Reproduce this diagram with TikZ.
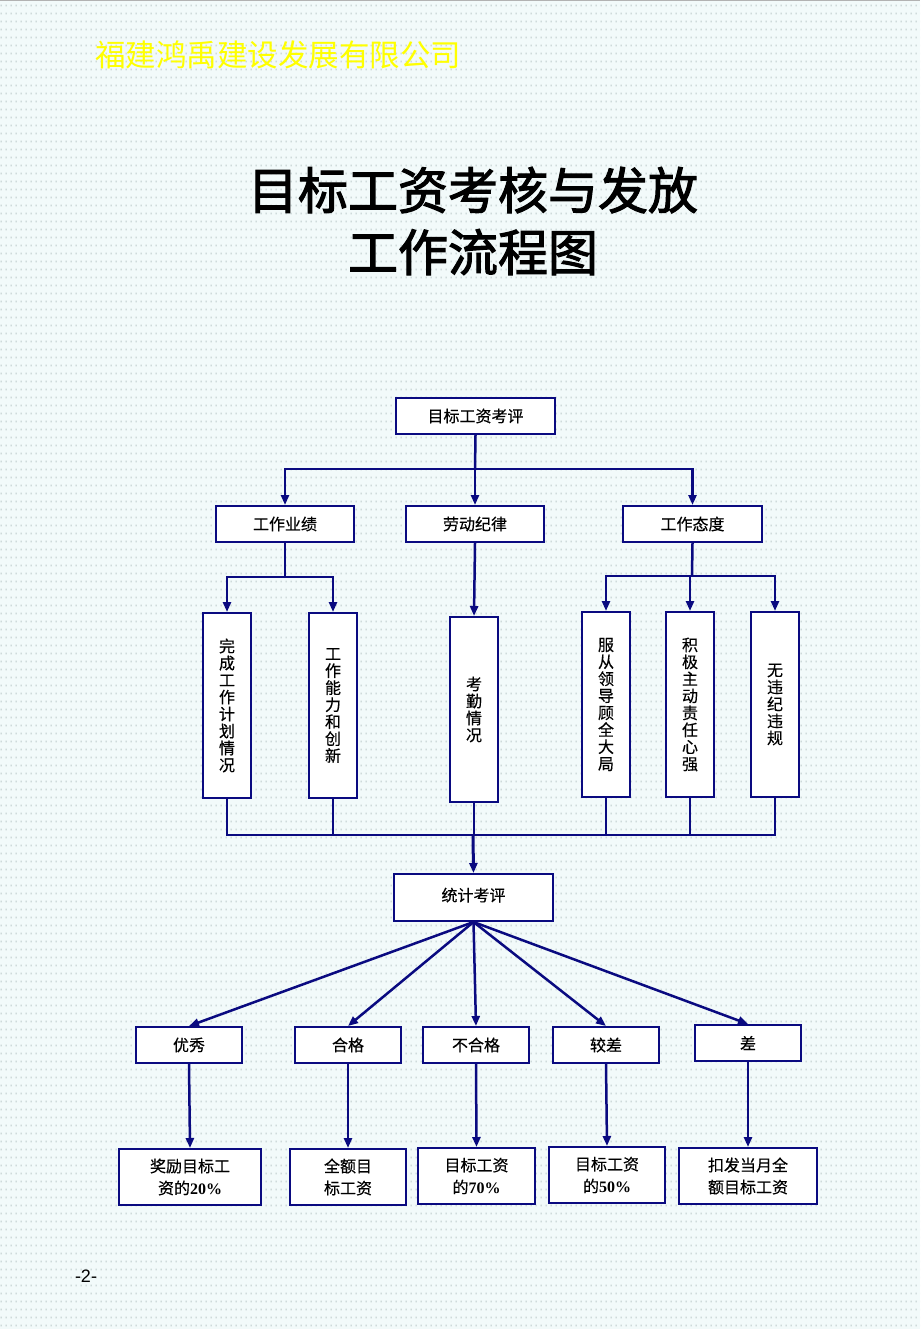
\documentclass[tikz,border=0pt]{standalone}
\usepackage{fontspec}
\setmainfont{Liberation Serif}
\newfontfamily\cjk[FakeBold=0.4]{Noto Sans CJK SC}
\newfontfamily\cjkplain{Noto Sans CJK SC}
\newfontfamily\cjktitle[FakeBold=2.2]{Noto Sans CJK SC}
\newfontfamily\pagesans{Liberation Sans}
\usetikzlibrary{arrows.meta,patterns}
\definecolor{bgc}{RGB}{242,250,250}
\definecolor{dotc}{RGB}{188,202,202}
\definecolor{navyc}{RGB}{10,10,128}
\definecolor{titley}{RGB}{255,255,0}
\newcommand\nb[1]{{\rmfamily\bfseries #1}}
\pgfdeclarepatternformonly{mydots}{\pgfqpoint{0pt}{0pt}}{\pgfqpoint{5pt}{8pt}}{\pgfqpoint{5pt}{8pt}}{%
  \pgfpathrectangle{\pgfqpoint{2pt}{3pt}}{\pgfqpoint{1pt}{2pt}}\pgfusepath{fill}}
\begin{document}
\begin{tikzpicture}[x=1pt,y=-1pt,
  box/.style={draw=navyc, line width=2pt, fill=white, inner sep=0pt, align=center,
    font=\cjk\fontsize{16}{22}\selectfont},
  vbox/.style={box, minimum width=48pt, minimum height=185pt, font=\cjk\fontsize{16}{17}\selectfont},
  conn/.style={draw=navyc, line width=2.5pt},
  arr/.style={conn, -{Triangle[length=10pt,width=8pt]}}]
\useasboundingbox (0,0) rectangle (920,1329);
\fill[bgc] (0,0) rectangle (920,1329);
\fill[pattern=mydots, pattern color=dotc] (0,0) rectangle (920,1329);
\draw[gray!60, line width=1.5pt] (0,0.75) -- (920,0.75);

% titles
\node[anchor=west, inner sep=0pt, text=titley, font=\cjkplain\fontsize{30.5}{30}\selectfont] (co) at (95,55) {福建鸿禹建设发展有限公司};
\node[align=center, inner sep=0pt, font=\cjktitle\fontsize{50}{62}\selectfont] (title) at (473,221) {目标工资考核与发放\\工作流程图};
\node[inner sep=0pt, font=\pagesans\fontsize{18}{18}\selectfont] (pg) at (86,1276) {-2-};

% level 1
\node[box, minimum width=159pt, minimum height=36pt] (A) at (475.5,416) {目标工资考评};
% level 2
\node[box, minimum width=138pt, minimum height=36pt] (B1) at (285,524) {工作业绩};
\node[box, minimum width=138pt, minimum height=36pt] (B2) at (475,524) {劳动纪律};
\node[box, minimum width=139pt, minimum height=36pt] (B3) at (692.5,524) {工作态度};
% level 3
\node[vbox] (C1) at (227,705.5) {完\\成\\工\\作\\计\\划\\情\\况};
\node[vbox] (C2) at (333,705.5) {工\\作\\能\\力\\和\\创\\新};
\node[vbox] (C3) at (474,709.5) {考\\勤\\情\\况};
\node[vbox] (C4) at (606,704.5) {服\\从\\领\\导\\顾\\全\\大\\局};
\node[vbox] (C5) at (690,704.5) {积\\极\\主\\动\\责\\任\\心\\强};
\node[vbox] (C6) at (775,704.5) {无\\违\\纪\\违\\规};
% level 4
\node[box, minimum width=159pt, minimum height=47pt] (D) at (473.5,897.5) {\raisebox{6pt}{统计考评}};
% level 5
\node[box, minimum width=106pt, minimum height=36pt] (E1) at (189,1045) {优秀};
\node[box, minimum width=106pt, minimum height=36pt] (E2) at (348,1045) {合格};
\node[box, minimum width=106pt, minimum height=36pt] (E3) at (476,1045) {不合格};
\node[box, minimum width=106pt, minimum height=36pt] (E4) at (606,1045) {较差};
\node[box, minimum width=106pt, minimum height=36pt] (E5) at (748,1043) {差};
% level 6
\node[box, minimum width=142pt, minimum height=56pt] (F1) at (190,1177) {奖励目标工\\资的\nb{20\%}};
\node[box, minimum width=116pt, minimum height=56pt] (F2) at (348,1177) {全额目\\标工资};
\node[box, minimum width=117pt, minimum height=56pt] (F3) at (476.5,1176) {目标工资\\的\nb{70\%}};
\node[box, minimum width=116pt, minimum height=56pt] (F4) at (607,1175) {目标工资\\的\nb{50\%}};
\node[box, minimum width=138pt, minimum height=56pt] (F5) at (748,1176) {扣发当月全\\额目标工资};

% connectors
\coordinate (j1) at (475,469);
\draw[conn] (A.south) -- (j1);
\draw[arr] (j1) -| (B1.north);
\draw[arr] (j1) -- (B2.north);
\draw[arr] (j1) -| (B3.north);

\coordinate (j2) at (285,577);
\draw[conn] (B1.south) -- (j2);
\draw[arr] (j2) -| (C1.north);
\draw[arr] (j2) -| (C2.north);
\draw[arr] (B2.south) -- (C3.north);
\coordinate (j3) at (692,576);
\draw[conn] (B3.south) -- (j3);
\draw[arr] (j3) -| (C4.north);
\draw[arr] (j3) -| (C5.north);
\draw[arr] (j3) -| (C6.north);

\coordinate (j4) at (473,835);
\draw[conn] (C1.south) |- (j4);
\draw[conn] (C2.south) |- (j4);
\draw[conn] (C3.south) -- (C3.south |- j4);
\draw[conn] (C4.south) |- (j4);
\draw[conn] (C5.south) |- (j4);
\draw[conn] (C6.south) |- (j4);
\draw[arr, line width=3pt] (j4) -- (D.north);

\foreach \e in {E1,E2,E3,E4,E5}{
  \draw[arr] (D.south) -- (\e.north);
}
\draw[arr] (E1.south) -- (F1.north);
\draw[arr] (E2.south) -- (F2.north);
\draw[arr] (E3.south) -- (F3.north);
\draw[arr] (E4.south) -- (F4.north);
\draw[arr] (E5.south) -- (F5.north);
\end{tikzpicture}
\end{document}
